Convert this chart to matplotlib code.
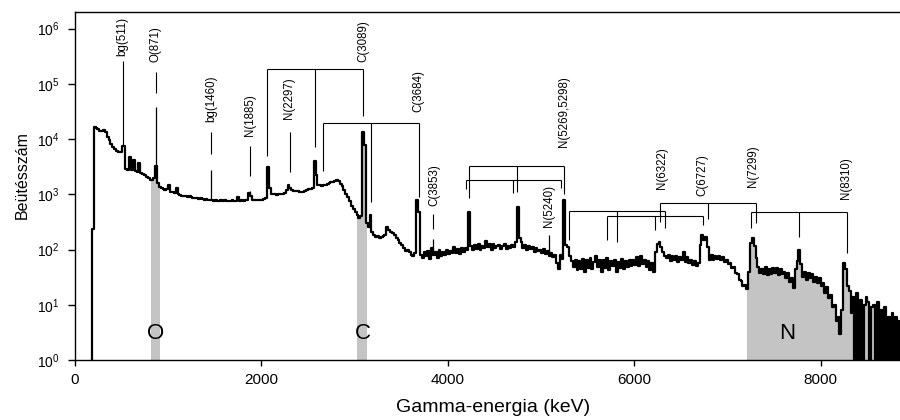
import numpy as np
import matplotlib
matplotlib.use('Agg')
import matplotlib.pyplot as plt
from matplotlib.ticker import NullLocator

plt.rcParams['font.family'] = 'Liberation Sans'
plt.rcParams['mathtext.fontset'] = 'custom'
plt.rcParams['mathtext.rm'] = 'Liberation Sans'
plt.rcParams['mathtext.it'] = 'Liberation Sans:italic'
plt.rcParams['mathtext.bf'] = 'Liberation Sans:bold'

# gamma spectrum, counts per 20 keV channel (first channel centred on 170 keV)
channel_start = 170
channel_width = 20
counts = [
    0,  # 170
    240, 16500, 16000, 15000, 14000, 14000, 14500, 13500, 11000, 9500,  # 190
    8200, 7300, 6600, 6100, 5900, 5800, 7400, 7400, 2900, 2700,  # 390
    4800, 2700, 4200, 2600, 2500, 3700, 2400, 2300, 2200, 2100,  # 590
    2000, 1850, 1800, 1950, 3300, 1600, 1350, 1300, 1250, 1200,  # 790
    1250, 1500, 1100, 1080, 1050, 1300, 1000, 980, 950, 930,  # 990
    920, 900, 950, 880, 860, 870, 850, 830, 840, 820,  # 1190
    800, 820, 790, 780, 800, 770, 790, 760, 770, 780,  # 1390
    760, 780, 750, 770, 760, 780, 750, 770, 900, 760,  # 1590
    780, 760, 800, 780, 1050, 950, 790, 780, 790, 800,  # 1790
    790, 800, 820, 850, 3100, 1300, 1000, 1000, 1010, 990,  # 1990
    1000, 1020, 1000, 1050, 1200, 1450, 1300, 1200, 1150, 1130,  # 2190
    1150, 1100, 1120, 1080, 1130, 1200, 1230, 1250, 1300, 3950,  # 2390
    2200, 1500, 1450, 1400, 1450, 1500, 1550, 1600, 1650, 1700,  # 2590
    1750, 1850, 1750, 1550, 1400, 1200, 1000, 900, 750, 620,  # 2790
    550, 470, 420, 380, 400, 13400, 7700, 300, 260, 420,  # 2990
    210, 180, 170, 175, 165, 170, 175, 180, 260, 230,  # 3190
    210, 200, 180, 160, 150, 130, 120, 105, 95, 100,  # 3390
    90, 80, 75, 85, 800, 470, 80, 70, 90, 75,  # 3590
    95, 68, 105, 80, 90, 70, 98, 75, 92, 80,  # 3790
    100, 82, 95, 85, 110, 88, 102, 84, 108, 92,  # 3990
    105, 98, 470, 115, 100, 122, 102, 125, 100, 118,  # 4190
    105, 140, 110, 125, 100, 128, 105, 118, 122, 104,  # 4390
    118, 124, 102, 118, 108, 122, 112, 135, 580, 160,  # 4590
    135, 108, 122, 98, 116, 102, 112, 92, 106, 96,  # 4790
    100, 86, 102, 82, 95, 78, 88, 72, 80, 58,  # 4990
    45, 80, 68, 800, 120, 112, 78, 62, 48, 66,  # 5190
    42, 62, 45, 68, 40, 64, 46, 70, 44, 60,  # 5390
    78, 48, 66, 40, 64, 46, 70, 42, 62, 50,  # 5590
    66, 40, 60, 46, 68, 44, 62, 48, 66, 50,  # 5790
    64, 52, 74, 50, 78, 55, 66, 48, 62, 42,  # 5990
    58, 40, 90, 125, 135, 110, 90, 78, 70, 80,  # 6190
    62, 76, 64, 78, 60, 72, 66, 90, 60, 72,  # 6390
    58, 66, 52, 62, 50, 58, 120, 185, 150, 170,  # 6590
    110, 65, 80, 66, 78, 68, 76, 64, 72, 60,  # 6790
    64, 54, 58, 46, 48, 38, 36, 28, 27, 22,  # 6990
    23, 19, 40, 130, 165, 115, 70, 48, 38, 44,  # 7190
    36, 48, 34, 45, 36, 47, 38, 46, 34, 44,  # 7390
    36, 40, 30, 38, 26, 30, 20, 45, 62, 100,  # 7590
    55, 32, 40, 28, 38, 30, 36, 26, 32, 25,  # 7790
    30, 22, 25, 16, 21, 13, 15, 9, 10, 5,  # 7990
    6, 3, 8, 58, 45, 22, 18, 7, 14, 0,  # 8190
    16, 0, 12, 0, 10, 14, 11, 0, 9, 10,  # 8390
    0, 11, 0, 8, 0, 9, 0, 6, 0, 7,  # 8590
    0, 6, 0, 5,  # 8790
]

# very narrow lines drawn on top of the spectrum (keV, peak counts)
thin_peak_energy = [866, 1459, 1878, 3845, 5086]
thin_peak_top = [38000, 2730, 1130, 158, 180]

# line labels (keV, counts at start of text)
label_text = ['bg(511)', 'O(871)', 'bg(1460)', 'N(1885)', 'N(2297)', 'C(3089)', 'C(3684)',
              'C(3853)', 'N(5269,5298)', 'N(5240)', 'N(6322)', 'C(6727)', 'N(7299)', 'N(8310)']
label_energy = [511, 866, 1459, 1878, 2301, 3090, 3686, 3852, 5247, 5086, 6293, 6733, 7269, 8273]
label_base = [323000, 251000, 20400, 11300, 23100, 251000, 31000, 605, 7160, 251, 1240, 920, 1340, 811]

# single pointer lines below some labels
marker_energy = [511, 866, 1459, 1878, 2301, 3845]
marker_top = [262000, 165000, 13400, 7460, 13400, 433]
marker_bottom = [7460, 68600, 5340, 2130, 2500, 231]

# escape peak brackets: double escape, single escape, full energy
bracket_energy = [[2060, 2570, 3090], [2661, 3176, 3686], [4227, 4742, 5247], [4195, 4700, 5215],
                  [5300, 5815, 6330], [5708, 6223, 6738], [6277, 6792, 7307], [7253, 7768, 8283]]
bracket_level = [186000, 19500, 3200, 1800, 490, 400, 710, 470]
bracket_ends = [[4900, 7200, 26000], [2600, 720, 880], [850, 1090, 1000], [1240, 1050, 1290],
                [150, 135, 250], [150, 230, 280], [320, 360, 300], [250, 170, 88]]

# element windows shaded under the spectrum
region_name = ['O', 'C', 'N']
region_start = [805, 3025, 7200]
region_end = [915, 3135, 8600]
region_label_energy = [866, 3087, 7640]

energy = channel_start + channel_width * np.arange(len(counts))
counts = np.array(counts, dtype=float)
counts_plot = np.where(counts > 0, counts, 0.1)

fig = plt.figure(figsize=(9, 4.2), dpi=100)
ax = fig.add_axes([75 / 900, 60 / 420, 825 / 900, 348 / 420])
ax.set_yscale('log')

# shaded windows
for name, e0, e1, ex in zip(region_name, region_start, region_end, region_label_energy):
    mask = (energy >= e0) & (energy <= e1)
    ax.fill_between(energy, 0.1, counts_plot, where=mask, step='mid', color='#c4c4c4', lw=0, zorder=1)
    ax.text(ex, 3.0, name, fontsize=16, ha='center', va='center', zorder=4)

# spectrum
ax.plot(energy, counts_plot, drawstyle='steps-mid', color='black', lw=1.6, zorder=3)
base = np.interp(thin_peak_energy, energy, counts)
ax.vlines(thin_peak_energy, base, thin_peak_top, color='black', lw=0.9, zorder=3)

# labels and pointers
for txt, e, b in zip(label_text, label_energy, label_base):
    ax.text(e, b, txt, rotation=90, ha='center', va='bottom', fontsize=8.3, zorder=4)
ax.vlines(marker_energy, marker_bottom, marker_top, color='black', lw=0.8, zorder=3)

for es, lev, ends in zip(bracket_energy, bracket_level, bracket_ends):
    ax.hlines(lev, es[0], es[-1], color='black', lw=0.8, zorder=3)
    ax.vlines(es, ends, lev, color='black', lw=0.8, zorder=3)

ax.set_xlim(0, 8850)
ax.set_ylim(1, 2.0e6)
ax.set_xticks([0, 2000, 4000, 6000, 8000])
ax.set_yticks([1e0, 1e1, 1e2, 1e3, 1e4, 1e5, 1e6])
ax.yaxis.set_minor_locator(NullLocator())
ax.tick_params(axis='x', direction='out', length=4.5, width=1, pad=5, labelsize=11)
ax.tick_params(axis='y', direction='out', length=5, width=1, pad=6, labelsize=10)
ax.spines['right'].set_visible(False)
for s in ['left', 'bottom', 'top']:
    ax.spines[s].set_linewidth(1.0)

ax.set_xlabel('Gamma-energia (keV)', fontsize=14)
ax.set_ylabel('Beütésszám', fontsize=11.5)
ax.xaxis.set_label_coords(0.507, -0.112)
ax.yaxis.set_label_coords(-0.055, 0.53)

fig.savefig('out.png', dpi=100)
